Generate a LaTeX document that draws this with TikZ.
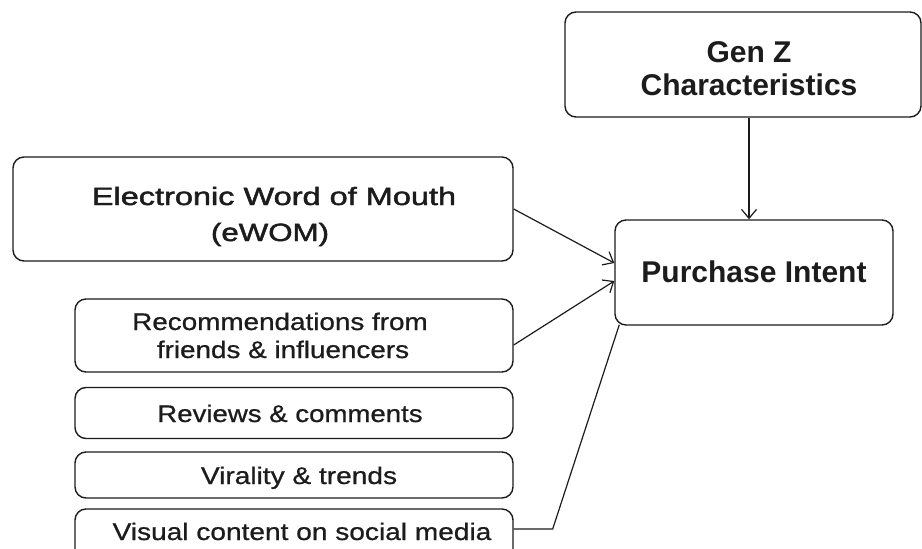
\documentclass[tikz,border=0pt]{standalone}
\usepackage{fontspec}
\setmainfont{Liberation Sans}
\newfontfamily\medfont{Liberation Sans}[FakeBold=1.6]
\newfontfamily\bodyfont{Liberation Sans}[FakeBold=0.7]
\usepackage{graphicx}
\usetikzlibrary{arrows.meta,calc}
\definecolor{ink}{HTML}{1C1C1C}
% horizontally widened lettering used in the left-hand boxes
\newcommand\widetxt[2]{\scalebox{#1}[1]{#2}}
\begin{document}
\begin{tikzpicture}[x=1pt,y=-1pt,
  box/.style={draw=ink, line width=1.4pt, rounded corners=11pt, inner sep=0pt, fill=white},
  lbl/.style={anchor=base, inner sep=0pt, text=ink},
  head/.style={lbl, font=\fontsize{30}{36}\selectfont\bfseries},
  mid/.style={lbl, font=\fontsize{25}{30}\medfont},
  small/.style={lbl, font=\fontsize{24}{28}\bodyfont},
  link/.style={draw=ink, line width=1.2pt},
  tip/.style={-{Straight Barb[length=9pt,width=15pt,line width=1.2pt]}}]
\useasboundingbox (0,0) rectangle (922,549);
\fill[white] (0,0) rectangle (922,549);
\clip (0,0) rectangle (922,549);

% boxes
\node[box, minimum width=356pt, minimum height=105pt] (genz) at (743,64.5) {};
\node[box, minimum width=278pt, minimum height=105pt] (purchase) at (754,272.5) {};
\node[box, minimum width=500pt, minimum height=104pt] (ewom) at (263,209) {};
\node[box, minimum width=438pt, minimum height=73pt] (rec) at (294,335.5) {};
\node[box, minimum width=438pt, minimum height=51pt] (reviews) at (294,413) {};
\node[box, minimum width=438pt, minimum height=46pt] (virality) at (294,475) {};
\node[box, minimum width=438pt, minimum height=62pt] (visual) at (294,540) {};

% labels
\node[head] (genzA) at (749,62) {Gen Z};
\node[head] (genzB) at (749,95) {Characteristics};
\node[head] (purchaseT) at (754,282) {Purchase Intent};
\node[mid] (ewomA) at (274,205) {\widetxt{1.3}{Electronic Word of Mouth}};
\node[mid] (ewomB) at (270,241) {\widetxt{1.25}{(eWOM)}};
\node[small] (recA) at (280,330) {\widetxt{1.16}{Recommendations from}};
\node[small] (recB) at (283,358) {\widetxt{1.16}{friends \& influencers}};
\node[small] (reviewsT) at (290,422) {\widetxt{1.15}{Reviews \& comments}};
\node[small] (viralityT) at (299,484) {\widetxt{1.17}{Virality \& trends}};
\node[small] (visualT) at (302,540) {\widetxt{1.17}{Visual content on social media}};

% connectors
\draw[link,tip] ($(genz.south)+(6,0)$) -- ($(purchase.north)+(-5,0)$);
\draw[link,tip] (ewom.east) -- ($(purchase.west)+(0,-9.5)$);
\draw[link,tip] ($(rec.east)+(0,9.5)$) -- ($(purchase.west)+(0,8.5)$);
\draw[link] ($(visual.east)+(0,-11)$) -- ++(39,0) -- ($(purchase.south west)+(5,-1)$);
\end{tikzpicture}
\end{document}
